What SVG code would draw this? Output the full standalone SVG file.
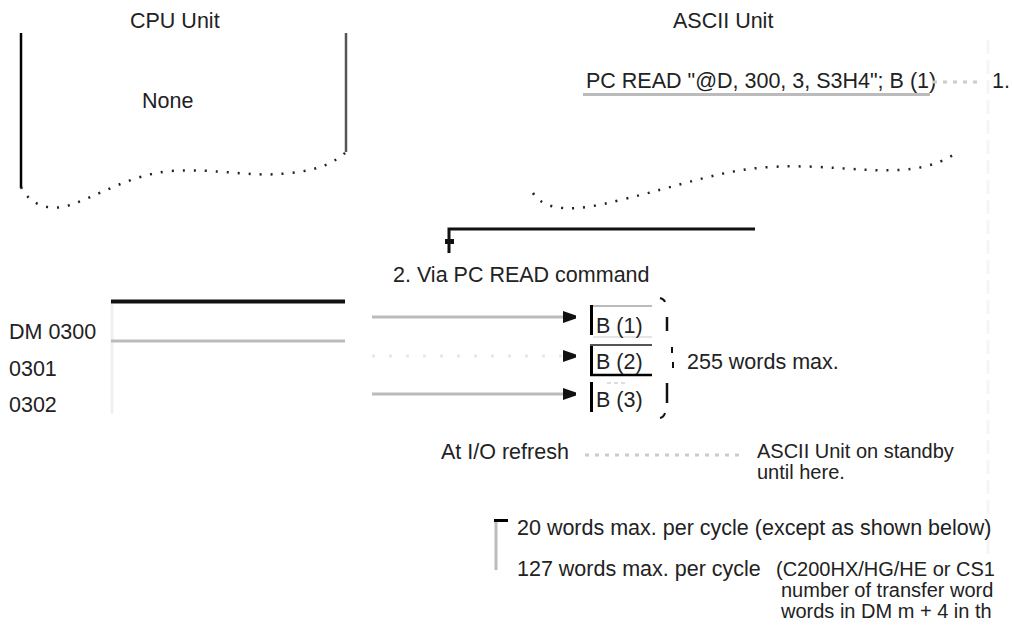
<svg xmlns="http://www.w3.org/2000/svg" width="1014" height="627" viewBox="0 0 1014 627">
  <defs>
    <style>
      .t { font-family: "Liberation Sans", Arial, Helvetica, sans-serif; font-size: 21.5px; fill: #222; }
      .s { font-size: 20px; }
      .dots { fill: none; stroke: #222; stroke-width: 2.5; stroke-dasharray: 2 9; stroke-linecap: butt; }
      .gray { stroke: #bbb; stroke-width: 3; fill: none; }
      .faint { stroke: #e8e8e8; stroke-width: 3; fill: none; stroke-dasharray: 3 14; }
      .leader { stroke: #ccc; stroke-width: 3; fill: none; stroke-dasharray: 4 6; }
      .blk { stroke: #111; fill: none; }
    </style>
    <marker id="ah" markerUnits="userSpaceOnUse" markerWidth="14" markerHeight="12" refX="13" refY="6" orient="auto">
      <path d="M0,0 L13,4.5 L13,7.5 L0,12 z" fill="#111"/>
    </marker>
  </defs>
  <rect width="1014" height="627" fill="#fff"/>

  <g id="cpu-unit">
    <text class="t" x="130" y="28">CPU Unit</text>
    <line x1="21" y1="33" x2="21" y2="188" stroke="#000" stroke-width="2.5"/>
    <line x1="346" y1="33" x2="346" y2="152" stroke="#555" stroke-width="2.5"/>
    <path class="dots" d="M21,187 C30,205 50,212 70,205 C100,195 130,175 170,171 C220,168 250,178 290,173 C320,170 335,162 346,152"/>
    <text class="t" x="142" y="108">None</text>
  </g>

  <g id="ascii-unit">
    <text class="t" x="673" y="28">ASCII Unit</text>
    <path class="dots" d="M533,193 C545,212 575,212 620,200 C680,186 720,170 770,167 C820,164 860,172 900,170 C930,168 945,160 953,155"/>
    <line x1="988" y1="40" x2="988" y2="560" stroke="#f6f6f6" stroke-width="3" stroke-dasharray="14 6"/>
  </g>

  <g id="command">
    <text class="t" x="586" y="88">PC READ "@D, 300, 3, S3H4"; B (1)</text>
    <line x1="583" y1="94.5" x2="930" y2="94.5" stroke="#bbb" stroke-width="3"/>
    <text class="t" x="992" y="88">1.</text>
  </g>

  <g id="step2-label">
    <text class="t" x="393" y="282">2. Via PC READ command</text>
  </g>

  <g id="dm-area">
    <line x1="112" y1="300" x2="112" y2="414" stroke="#f0f0f0" stroke-width="3"/>
    <line x1="111" y1="301.5" x2="345" y2="301.5" stroke="#111" stroke-width="4"/>
    <line x1="111" y1="341" x2="345" y2="341" stroke="#bbb" stroke-width="3"/>
    <text class="t" x="9" y="339">DM 0300</text>
    <text class="t" x="9" y="376">0301</text>
    <text class="t" x="9" y="412">0302</text>
  </g>

  <g id="b-buffer">
    <rect x="590" y="305" width="3" height="30" fill="#000"/>
    <line x1="593" y1="306" x2="652" y2="306" stroke="#bbb" stroke-width="2"/>
    <line x1="593" y1="337" x2="652" y2="337" stroke="#e5e5e5" stroke-width="2"/>
    <text class="t" x="596" y="333">B (1)</text>
    <rect x="590" y="344" width="3" height="32" fill="#000"/>
    <line x1="590" y1="345" x2="652" y2="345" stroke="#555" stroke-width="2"/>
    <line x1="590" y1="375" x2="652" y2="375" stroke="#000" stroke-width="2.5"/>
    <text class="t" x="596" y="369">B (2)</text>
    <rect x="590" y="382" width="3" height="30" fill="#000"/>
    <line x1="607" y1="383" x2="628" y2="383" stroke="#ddd" stroke-width="2" stroke-dasharray="4 3"/>
    <text class="t" x="596" y="407">B (3)</text>
    <path class="blk" stroke-width="2" d="M660,298 Q664,299 665,302"/>
    <line x1="667" y1="317" x2="667" y2="331" stroke="#111" stroke-width="2.5"/>
    <path class="blk" stroke-width="2" d="M672,347 L672,353 M673,362 L673,368"/>
    <line x1="667" y1="383" x2="667" y2="403" stroke="#111" stroke-width="2.5"/>
    <path class="blk" stroke-width="2" d="M665,413 Q664,417 660,418"/>
    <text class="t" x="687" y="369">255 words max.</text>
  </g>

  <g id="refresh-note">
    <text class="t" x="441" y="459">At I/O refresh</text>
    <text class="t s" x="757" y="458">ASCII Unit on standby</text>
    <text class="t s" x="757" y="479">until here.</text>
  </g>

  <g id="cycle-note">
    <rect x="494" y="519" width="14" height="3" fill="#000"/>
    <line x1="496" y1="522" x2="496" y2="570" stroke="#bbb" stroke-width="3"/>
    <text class="t" x="517" y="535">20 words max. per cycle (except as shown below)</text>
    <text class="t" x="517" y="576">127 words max. per cycle</text>
    <text class="t s" x="776" y="576">(C200HX/HG/HE or CS1</text>
    <text class="t s" x="781" y="597">number of transfer word</text>
    <text class="t s" x="781" y="618">words in DM m + 4 in th</text>
  </g>

  <g id="connectors">
    <path class="blk" stroke-width="3" d="M755,229 L449,229 L449,253"/>
    <rect x="445" y="239" width="9" height="5" fill="#111"/>
    <line class="gray" x1="372" y1="317" x2="576" y2="317" marker-end="url(#ah)"/>
    <line class="faint" x1="372" y1="356" x2="576" y2="356" marker-end="url(#ah)"/>
    <line class="gray" x1="372" y1="394" x2="576" y2="394" marker-end="url(#ah)"/>
    <line class="leader" x1="933" y1="82" x2="983" y2="82"/>
    <line class="leader" x1="585" y1="455" x2="745" y2="455"/>
  </g>
</svg>
